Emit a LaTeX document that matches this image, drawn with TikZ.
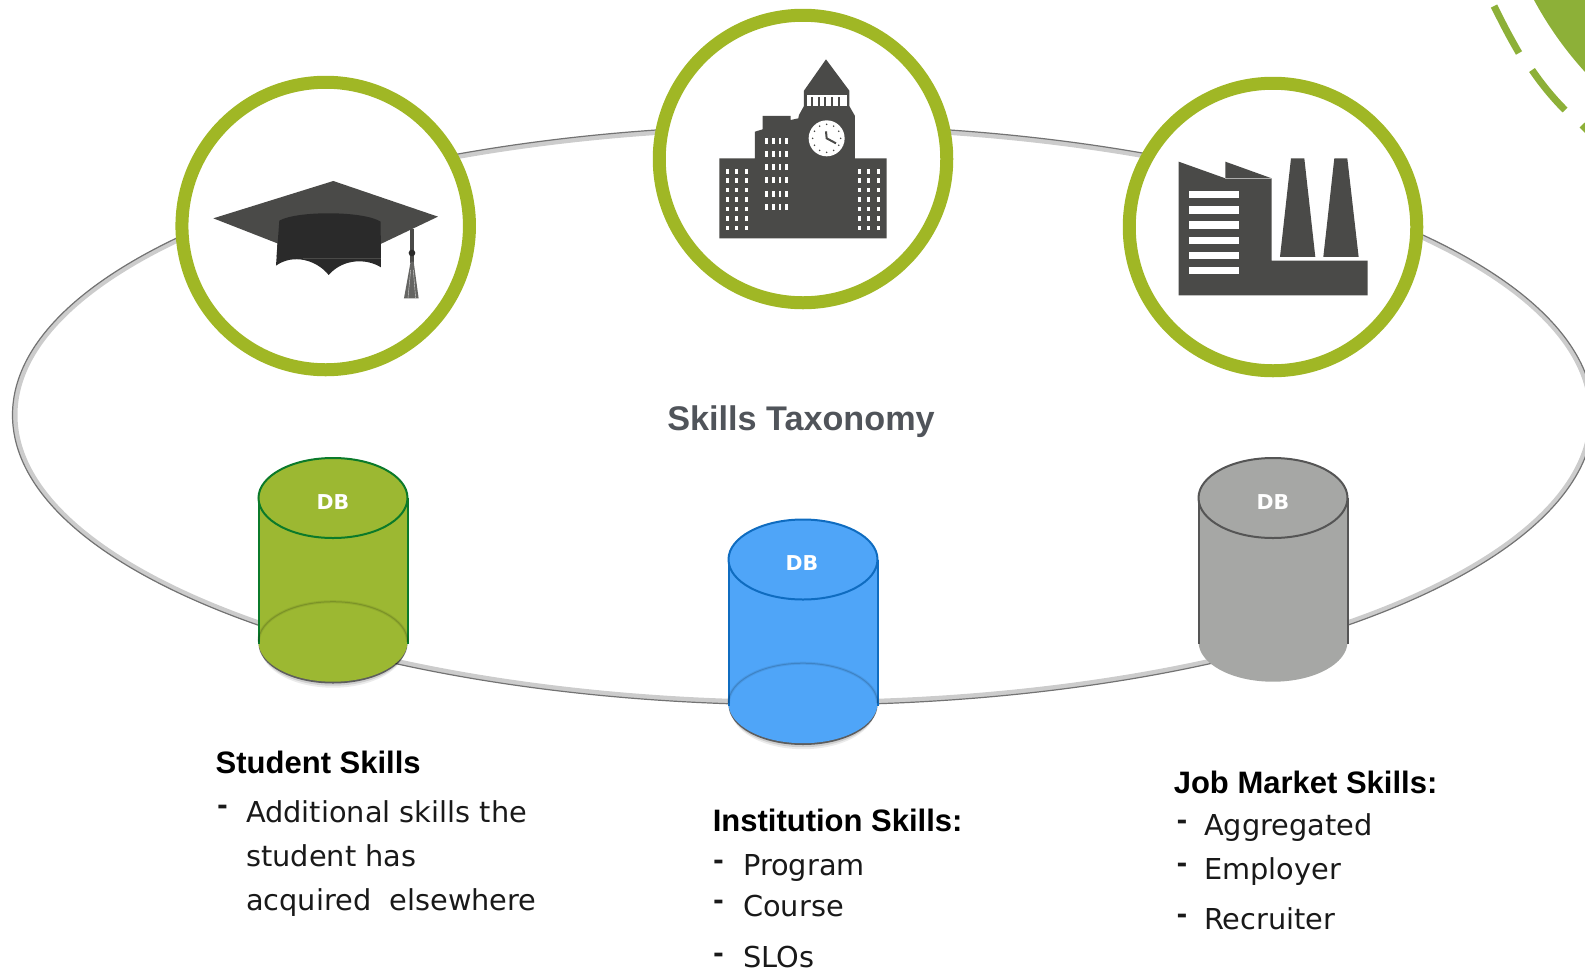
\documentclass[tikz,border=0pt]{standalone}
\usepackage{fontspec}
\setmainfont{DejaVu Sans}
\newfontfamily\headfont{Liberation Sans}
\newfontfamily\dbfont{DejaVu Sans}
\usetikzlibrary{calc}
\definecolor{ringgreen}{HTML}{A0B725}
\definecolor{cornergreen}{HTML}{8DB038}
\definecolor{icondark}{HTML}{4A4A48}
\definecolor{capdark}{HTML}{2A2A2A}
\definecolor{titlegrey}{HTML}{50545A}
\definecolor{cylgreen}{HTML}{9CB832}
\definecolor{cylgreenline}{HTML}{0B7A2A}
\definecolor{cylblue}{HTML}{4FA5F8}
\definecolor{cylblueline}{HTML}{0F6CC0}
\definecolor{cylgrey}{HTML}{A6A7A5}
\definecolor{cylgreyline}{HTML}{555555}
\tikzset{
  ring/.style={circle,draw=ringgreen,line width=13pt,fill=white,minimum size=287.5pt,inner sep=0pt},
  heading/.style={anchor=base west,inner sep=0pt,font=\headfont\bfseries\fontsize{31}{31}\selectfont},
  bodytext/.style={anchor=base west,inner sep=0pt,font=\fontsize{28.8}{28.8}\selectfont,text=black!90},
  dashmark/.style={anchor=base west,inner sep=0pt,font=\bfseries\fontsize{26}{26}\selectfont,text=black!90},
  dbtext/.style={inner sep=0pt,text=white,font=\dbfont\bfseries\fontsize{20.5}{20.5}\selectfont},
  icon/.style={fill=icondark,draw=none},
  win/.style={fill=white,draw=none}
}
\newcommand{\cylshadow}[1]{% centre of bottom ellipse
  \fill[black,opacity=.08] (#1) ++(0,6) ellipse [x radius=72,y radius=40];
  \fill[black,opacity=.12] (#1) ++(0,4) ellipse [x radius=73,y radius=40];
  \fill[black,opacity=.55] (#1) ++(0,1.8) ellipse [x radius=74.5,y radius=40];
}
\newcommand{\cylbody}[4]{% cx, top cy, fill, line
  \fill[#3] (#1-74.5,#2) -- (#1-74.5,#2+143.7) arc [start angle=180,end angle=360,x radius=74.5,y radius=-40] -- (#1+74.5,#2) -- cycle;
  \draw[#4,line width=2pt] (#1-74.5,#2) -- (#1-74.5,#2+146) (#1+74.5,#2) -- (#1+74.5,#2+146);
  \draw[#4,line width=2pt,fill=#3] (#1,#2) ellipse [x radius=74.5,y radius=40];
}
\newcommand{\cylrim}[1]{%
  \draw[black,opacity=.07,line width=3pt] (#1) ++(-74.5,0) arc [start angle=180,end angle=360,x radius=74.5,y radius=40];
  \draw[black,opacity=.14,line width=1pt] (#1) ++(-74.5,0) arc [start angle=180,end angle=360,x radius=74.5,y radius=40];
}
\begin{document}
\begin{tikzpicture}[x=1pt,y=-1pt]
\useasboundingbox (0,0) rectangle (1585,970);
\clip (0,0) rectangle (1585,970);
% corner decoration
\fill[cornergreen] (1534,0) .. controls (1548,26) and (1565,50) .. (1585,72) -- (1585,0) -- cycle;
\draw[cornergreen,line width=7pt] (1494,6) .. controls (1503,24) and (1508,34) .. (1519,53);
\draw[cornergreen,line width=7pt] (1532,70) .. controls (1543,86) and (1554,99) .. (1565,110);
\draw[cornergreen,line width=7pt] (1582,125) -- (1590,133);
% large ellipse
\draw[black!20,line width=5pt] (803,415) ellipse [x radius=788,y radius=287.5];
\draw[black!55,line width=1.2pt] (803,415) ellipse [x radius=790.5,y radius=290];
% rings
\node[ring] (studentring) at (325.7,226) {};
\node[ring] (instring) at (803,159) {};
\node[ring] (jobring) at (1273,227) {};
% cap
\begin{scope}[shift={(170,70)},x=0.3333pt,y=-0.3333pt]
\fill[icon] (130,445) -- (490,333) -- (804,440) -- (632,522) -- (632,560) -- (320,560) -- (322,520) -- cycle;
\fill[capdark] (328,452) .. controls (380,422) and (580,422) .. (632,455) -- (633,592)
  .. controls (590,565) and (520,565) .. (476,615) .. controls (440,570) and (370,550) .. (318,587) -- cycle;
\draw[icondark,line width=.5pt] (400,565) -- (632,565);
\fill[icondark] (720,478) rectangle (731,580);
\fill[capdark] (726,549) circle (10);
\fill[icondark!85] (722,575) -- (702,685) -- (746,685) -- (731,575) -- cycle;
\draw[white!75!icondark,line width=.4pt] (722,600) -- (714,685) (730,600) -- (737,685);
\end{scope}
% building
\begin{scope}[shift={(650,0)},x=0.3333pt,y=-0.3333pt]
\fill[icon] (208,475) -- (315,475) -- (315,395) -- (338,388) -- (338,348) -- (422,348) -- (422,360) -- (445,355) -- (447,345) -- (462,318) -- (462,272) -- (528,178) -- (598,272) -- (598,318) -- (615,348) -- (615,475) -- (710,475) -- (710,715) -- (208,715) -- cycle;
\fill[win] (470,285) rectangle (592,317);
\foreach \x in {483,503,523,543,563} \fill[icondark] (\x,290) rectangle (\x+6,317);
\foreach \x in {228,256,285,624,652,681}
  \foreach \y in {507,535,563,591,620,648,677} \fill[win] (\x,\y) rectangle (\x+9,\y+14);
\foreach \x in {346,366,386,406}
  \foreach \y in {413,453,493,532,572,612} \fill[win] (\x,\y) rectangle (\x+8,\y+18);
\fill[win] (530,415) circle (54);
\foreach \a in {0,30,...,330} \fill[icondark] ($(530,415)+(\a:42)$) circle (2.6);
\draw[icondark,line width=2pt] (528,394) -- (530,415) -- (558,430);
\end{scope}
% factory
\begin{scope}[shift={(1120,70)},x=0.3333pt,y=-0.3333pt]
\fill[icon] (176,275) -- (316,325) -- (316,275) -- (455,325) -- (455,572) -- (743,572) -- (743,676) -- (176,676) -- cycle;
\draw[white!55!icondark,line width=.5pt] (316,325) -- (455,325);
\foreach \y/\h in {363/22,409/22,454/23,500/22,545/23,591/22} \fill[win] (206,\y) rectangle (356,\y+\h);
\fill[icon] (480,561) -- (513,265) -- (553,265) -- (586,561) -- cycle;
\fill[icon] (610,561) -- (643,265) -- (682,265) -- (716,561) -- cycle;
\end{scope}
% title
\node[anchor=base,inner sep=0pt,text=titlegrey,font=\headfont\bfseries\fontsize{34.2}{34.2}\selectfont] (title) at (801,430) {Skills Taxonomy};
% cylinders
\cylshadow{333,641.7}
\cylshadow{803,703.2}
\cylbody{333}{498}{cylgreen}{cylgreenline}
\cylbody{803}{559.5}{cylblue}{cylblueline}
\cylbody{1273}{498}{cylgrey}{cylgreyline}
\cylrim{333,641.7}
\cylrim{803,703.2}
\node[dbtext] (dba) at (333,502) {DB};
\node[dbtext] (dbb) at (802,563) {DB};
\node[dbtext] (dbc) at (1273,502) {DB};
% student
\node[heading] (sh) at (215.5,773) {Student Skills};
\node[dashmark] (sd) at (217,814.5) {-};
\node[bodytext] (s1) at (246,822.7) {Additional skills the};
\node[bodytext] (s2) at (246,866.7) {student has};
\node[bodytext] (s3) at (246,910) {acquired\ \ elsewhere};
% institution
\node[heading] (ih) at (712.6,831.7) {Institution Skills:};
\node[dashmark] (id1) at (713,869.2) {-};
\node[bodytext] (i1) at (743,875) {Program};
\node[dashmark] (id2) at (713,909.2) {-};
\node[bodytext] (i2) at (743,916.7) {Course};
\node[dashmark] (id3) at (713,962.5) {-};
\node[bodytext] (i3) at (743,967) {SLOs};
% job
\node[heading] (jh) at (1173.6,793.3) {Job Market Skills:};
\node[dashmark] (jd1) at (1176.5,829.2) {-};
\node[bodytext] (j1) at (1204,835) {Aggregated};
\node[dashmark] (jd2) at (1176.5,872.5) {-};
\node[bodytext] (j2) at (1204,879) {Employer};
\node[dashmark] (jd3) at (1176.5,923.2) {-};
\node[bodytext] (j3) at (1204,929) {Recruiter};
\end{tikzpicture}
\end{document}
